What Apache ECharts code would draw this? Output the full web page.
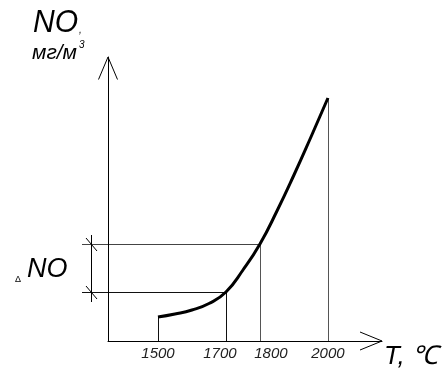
<!DOCTYPE html>
<html><head><meta charset="utf-8">
<script src="https://cdn.jsdelivr.net/npm/echarts@6/dist/echarts.min.js"></script>
<style>html,body{margin:0;padding:0;background:#fff}#c{width:443px;height:376px}</style>
</head><body><div id="c"></div>
<script>
// ---- data ----
const temps = [1500, 1550, 1600, 1650, 1700, 1750, 1800, 1850, 1900, 1950, 2000];
const noValues = [24, 27, 31, 37.5, 49, 71, 97, 130, 166, 204, 243];
const tickLabels = [1500, 1700, 1800, 2000];
const dropTemps = [1500, 1700, 1800, 2000];
const bracketTemps = [1700, 1800];
const yTitle = 'NO';
const yUnit = 'мг/м';
const xTitle = 'T, ℃';
const deltaLabel = 'NO';

(function () {
const FONT = '"Liberation Sans", Arial, sans-serif';
const chart = echarts.init(document.getElementById('c'), null, {renderer: 'canvas'});

const noAt = t => noValues[temps.indexOf(t)];
const labelStyle = {fontFamily: FONT, fontStyle: 'italic', fontSize: 15, color: '#222'};
// small horizontal nudges of two tick labels, as in the reference
const labelShift = {1700: 'l', 1800: 'r'};

chart.setOption({
  animation: false,
  backgroundColor: '#fff',
  grid: {left: 108, top: 57, width: 274, height: 284},
  xAxis: {
    type: 'value', min: 1353, max: 2159,
    axisLine: {show: true, onZero: false, lineStyle: {color: '#000', width: 1}},
    axisTick: {show: false},
    splitLine: {show: false},
    axisLabel: Object.assign({
      customValues: tickLabels,
      margin: 5,
      formatter: v => labelShift[v] ? '{' + labelShift[v] + '|' + v + '}' : '{n|' + v + '}',
      rich: {
        n: Object.assign({}, labelStyle),
        l: Object.assign({padding: [0, 12, 0, 0]}, labelStyle),
        r: Object.assign({padding: [0, 0, 0, 22]}, labelStyle)
      }
    }, labelStyle)
  },
  yAxis: {
    type: 'value', min: 0, max: 284,
    axisLine: {show: true, lineStyle: {color: '#000', width: 1}},
    axisTick: {show: false}, axisLabel: {show: false}, splitLine: {show: false}
  },
  series: [{
    type: 'line',
    data: temps.map((t, i) => [t, noValues[i]]),
    smooth: 0.5,
    showSymbol: false,
    lineStyle: {color: '#000', width: 3},
    z: 5
  }]
});

function px(t, v) { return chart.convertToPixel({gridIndex: 0}, [t, v]); }

const g = [];
const axisOrigin = px(1353, 0);
const ax = axisOrigin[0], ay = axisOrigin[1];
const yTop = px(1353, 284)[1];
const xRight = px(2159, 0)[0];
// arrows
g.push({type: 'polyline', shape: {points: [[ax - 9.5, yTop + 22.5], [ax, yTop], [ax + 9.5, yTop + 22.5]]}, style: {stroke: '#000', lineWidth: 1, fill: null}});
g.push({type: 'polyline', shape: {points: [[xRight - 22, ay - 9], [xRight, ay], [xRight - 22, ay + 9]]}, style: {stroke: '#000', lineWidth: 1, fill: null}});
// drop lines
dropTemps.forEach((t, i) => {
  const p = px(t, noAt(t));
  g.push({type: 'line', shape: {x1: Math.round(p[0]) + 0.5, y1: p[1], x2: Math.round(p[0]) + 0.5, y2: ay}, style: {stroke: i < 2 ? '#111' : '#555', lineWidth: 1}});
});
// horizontal guides and bracket
const bx = ax - 16.5;
const ys = bracketTemps.map(t => px(t, noAt(t)));
ys.forEach((p, i) => {
  const yy = Math.round(p[1]) + 0.5;
  g.push({type: 'line', shape: {x1: ax - 26, y1: yy, x2: p[0], y2: yy}, style: {stroke: i === 0 ? '#111' : '#444', lineWidth: 1}});
  g.push({type: 'line', shape: {x1: bx - 5.5, y1: yy - 6.5, x2: bx + 5.5, y2: yy + 6.5}, style: {stroke: '#000', lineWidth: 1}});
});
g.push({type: 'line', shape: {x1: bx, y1: ys[1][1] - 9, x2: bx, y2: ys[0][1] + 10}, style: {stroke: '#000', lineWidth: 1}});

// texts
g.push({type: 'text', x: 33, y: 7, scaleX: 0.94, style: {text: yTitle, font: 'italic 32px ' + FONT, fill: '#000'}});
g.push({type: 'text', x: 79, y: 25, style: {text: ',', font: 'italic 10px ' + FONT, fill: '#000'}});
g.push({type: 'text', x: 32, y: 43, style: {text: yUnit, font: 'italic 21px ' + FONT, fill: '#000'}});
g.push({type: 'text', x: 79, y: 40, style: {text: '3', font: 'italic 10px ' + FONT, fill: '#000'}});
g.push({type: 'text', x: 15, y: 275, style: {text: 'Δ', font: '9px ' + FONT, fill: '#000'}});
g.push({type: 'text', x: 27, y: 256, style: {text: deltaLabel, font: 'italic 27px ' + FONT, fill: '#000'}});
g.push({type: 'text', x: 384, y: 344, style: {text: xTitle, font: 'italic 26px ' + FONT, fill: '#000'}});

chart.setOption({graphic: {elements: g}});
})();
</script>
</body></html>
